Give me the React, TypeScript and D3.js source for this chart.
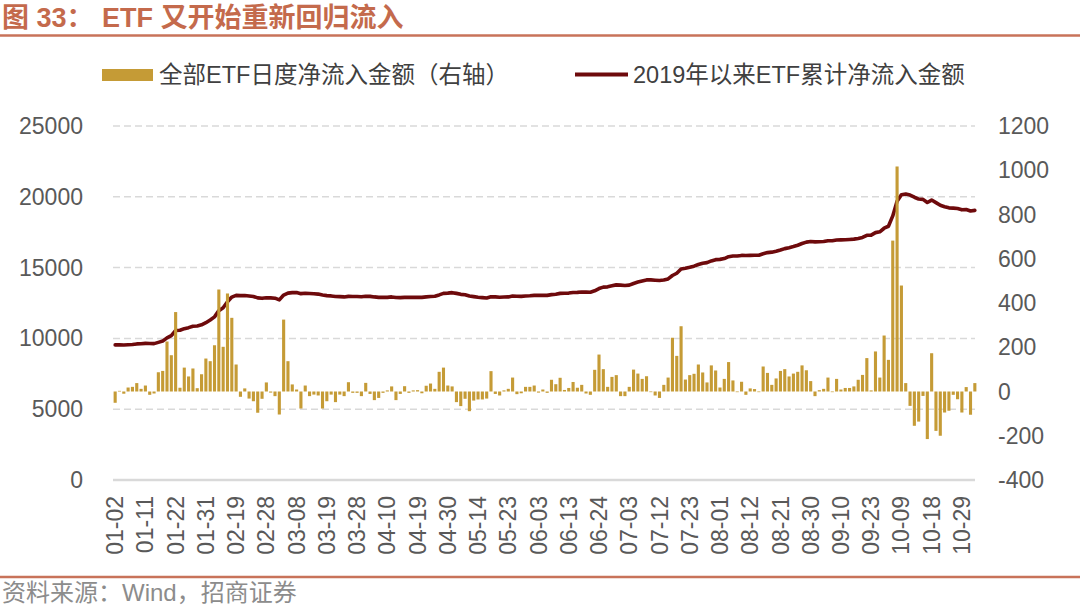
import * as React from 'react';
import * as d3 from 'd3';

// trading days, 2024-01-02 .. 2024-11-01
const dates: string[] = [
  '01-02','01-03','01-04','01-05','01-08','01-09','01-10','01-11','01-12','01-15','01-16','01-17','01-18','01-19','01-22','01-23','01-24','01-25','01-26','01-29','01-30','01-31',
  '02-01','02-02','02-05','02-06','02-07','02-08','02-19','02-20','02-21','02-22','02-23','02-26','02-27','02-28','02-29',
  '03-01','03-04','03-05','03-06','03-07','03-08','03-11','03-12','03-13','03-14','03-15','03-18','03-19','03-20','03-21','03-22','03-25','03-26','03-27','03-28','03-29',
  '04-01','04-02','04-03','04-08','04-09','04-10','04-11','04-12','04-15','04-16','04-17','04-18','04-19','04-22','04-23','04-24','04-25','04-26','04-29','04-30',
  '05-06','05-07','05-08','05-09','05-10','05-13','05-14','05-15','05-16','05-17','05-20','05-21','05-22','05-23','05-24','05-27','05-28','05-29','05-30','05-31',
  '06-03','06-04','06-05','06-06','06-07','06-11','06-12','06-13','06-14','06-17','06-18','06-19','06-20','06-21','06-24','06-25','06-26','06-27','06-28',
  '07-01','07-02','07-03','07-04','07-05','07-08','07-09','07-10','07-11','07-12','07-15','07-16','07-17','07-18','07-19','07-22','07-23','07-24','07-25','07-26','07-29','07-30','07-31',
  '08-01','08-02','08-05','08-06','08-07','08-08','08-09','08-12','08-13','08-14','08-15','08-16','08-19','08-20','08-21','08-22','08-23','08-26','08-27','08-28','08-29','08-30',
  '09-02','09-03','09-04','09-05','09-06','09-09','09-10','09-11','09-12','09-13','09-18','09-19','09-20','09-23','09-24','09-25','09-26','09-27','09-30',
  '10-08','10-09','10-10','10-11','10-14','10-15','10-16','10-17','10-18','10-21','10-22','10-23','10-24','10-25','10-28','10-29','10-30','10-31',
  '11-01',
];

const tickLabels = [
  '01-02','01-11','01-22','01-31','02-19','02-28','03-08','03-19','03-28','04-10',
  '04-19','04-30','05-14','05-23','06-03','06-13','06-24','07-03','07-12','07-23',
  '08-01','08-12','08-21','08-30','09-10','09-23','10-09','10-18','10-29',
];

// 全部ETF日度净流入金额 (亿元, right axis)
const dailyFlow = [
  -51, 3, -10, 18, 21, 38, 12, 27, -15, -9,
  87, 93, 226, 164, 359, 17, 108, 68, 104, 15,
  78, 149, 137, 209, 461, 202, 443, 333, 122, -24,
  14, -32, -44, -96, -33, 41, -5, -21, -104, 325,
  137, 32, 9, -77, 27, -21, -14, -18, -77, -44,
  -14, -48, -14, -21, 42, -6, -6, -21, 39, -11,
  -39, -29, -6, 5, 23, -39, -11, 24, -6, 5,
  6, -8, 26, 36, 12, 89, 108, 27, 23, -48,
  -66, -33, -89, -41, -36, -36, -32, 92, -11, -18,
  5, 12, 63, -12, -8, 21, 21, 27, -5, 9,
  -6, 53, 33, 62, 7, 16, 43, 17, 30, -9,
  -15, 98, 167, 101, 21, 66, 74, -21, -21, 21,
  99, 81, 57, 69, -3, -18, -29, 30, 63, 243,
  161, 295, 54, 74, 80, 122, 86, 41, 118, 95,
  18, 57, 133, 50, -3, 44, -15, 14, 11, -3,
  113, 84, 30, 59, 93, 101, 68, 81, 89, 118,
  96, 47, -21, 6, 12, 63, -3, 57, 9, 16,
  16, 23, 53, 75, 151, 5, 181, 63, 253, 143,
  682, 1017, 479, 38, -65, -155, -136, -20, -215, 173,
  -178, -200, -95, -87, -15, -35, -95, 20, -105, 38,
];

// 2019年以来ETF累计净流入金额 (亿元, left axis)
const cumFlow = [
  9540, 9540, 9530, 9550, 9570, 9610, 9620, 9650, 9640, 9630,
  9720, 9810, 10040, 10200, 10560, 10580, 10690, 10760, 10860, 10880,
  10960, 11110, 11300, 11520, 11960, 12160, 12590, 12920, 13040, 13020,
  13030, 13000, 12960, 12860, 12830, 12870, 12860, 12840, 12720, 13060,
  13200, 13230, 13240, 13160, 13190, 13170, 13150, 13130, 13060, 13020,
  13000, 12960, 12950, 12930, 12970, 12960, 12960, 12940, 12980, 12970,
  12930, 12900, 12900, 12900, 12930, 12890, 12880, 12900, 12900, 12900,
  12910, 12900, 12930, 12960, 12980, 13070, 13180, 13200, 13230, 13180,
  13110, 13080, 12990, 12950, 12910, 12880, 12850, 12940, 12930, 12910,
  12920, 12930, 12990, 12980, 12970, 12990, 13010, 13040, 13040, 13050,
  13040, 13090, 13120, 13180, 13190, 13200, 13240, 13250, 13280, 13270,
  13260, 13360, 13520, 13620, 13640, 13710, 13780, 13760, 13740, 13760,
  13880, 13980, 14060, 14130, 14130, 14110, 14090, 14120, 14200, 14440,
  14600, 14900, 14950, 15020, 15100, 15220, 15310, 15350, 15470, 15560,
  15580, 15640, 15770, 15820, 15820, 15860, 15850, 15860, 15870, 15870,
  15980, 16060, 16090, 16150, 16240, 16340, 16410, 16490, 16580, 16700,
  16800, 16840, 16820, 16830, 16840, 16900, 16900, 16950, 16960, 16970,
  16990, 17010, 17060, 17130, 17280, 17290, 17470, 17530, 17780, 17920,
  18650, 19680, 20150, 20190, 20120, 19970, 19840, 19820, 19600, 19770,
  19590, 19400, 19300, 19220, 19200, 19170, 19080, 19100, 19000, 19040,
];

const leftTicks = [0, 5000, 10000, 15000, 20000, 25000];
const rightTicks = [-400, -200, 0, 200, 400, 600, 800, 1000, 1200];

const W = 1080;
const H = 609;
const margin = { left: 113, right: 977, top: 126, bottom: 480 };
const gold = '#C59B36';
const maroon = '#6E0A0C';
const accent = '#C46A4C';
const font = '"Liberation Sans", Arial, "Noto Sans CJK SC", sans-serif';

export default function App() {
  const x = d3.scaleBand<number>()
    .domain(d3.range(dates.length))
    .range([margin.left, margin.right])
    .paddingInner(0.28)
    .paddingOuter(0.14);
  const cx = (i: number) => x(i)! + x.bandwidth() / 2;
  const yL = d3.scaleLinear().domain([0, 25000]).range([margin.bottom, margin.top]);
  const yR = d3.scaleLinear().domain([-400, 1200]).range([margin.bottom, margin.top]);

  const line = d3.line<number>()
    .x((_, i) => cx(i))
    .y(d => yL(d));

  return (
    <svg width={W} height={H} style={{ position: 'absolute', left: 0, top: 0, display: 'block' }}
      fontFamily={font}>
      <rect width={W} height={H} fill="#fff" />

      {/* title */}
      <text x={2} y={27} fontSize={27} fontWeight="bold" fill={accent}>图 33：</text>
      <text x={102} y={27} fontSize={27} fontWeight="bold" fill={accent}>ETF 又开始重新回归流入</text>
      <line x1={0} x2={W} y1={35.5} y2={35.5} stroke="#C8735A" strokeWidth={2.5} />

      {/* legend */}
      <rect x={102} y={69} width={51} height={12} fill={gold} />
      <text x={159} y={75} fontSize={23.5} fill="#404040" dominantBaseline="central">全部ETF日度净流入金额（右轴）</text>
      <line x1={575} x2={628} y1={74.5} y2={74.5} stroke={maroon} strokeWidth={4} />
      <text x={633} y={75} fontSize={23.5} fill="#404040" dominantBaseline="central">2019年以来ETF累计净流入金额</text>

      {/* grid */}
      {leftTicks.filter(t => t > 0).map(t => (
        <line key={t} x1={margin.left} x2={margin.right - 2} y1={yL(t)} y2={yL(t)}
          stroke="#D9D9D9" strokeWidth={1.5} strokeDasharray="7,4" />
      ))}
      <line x1={margin.left} x2={margin.right - 2} y1={yL(0)} y2={yL(0)} stroke="#D9D9D9" strokeWidth={2.5} />

      {/* left axis */}
      {leftTicks.map(t => (
        <text key={t} x={83} y={yL(t)} dy="0.35em" textAnchor="end" fontSize={23} fill="#595959">{t}</text>
      ))}
      {/* right axis */}
      {rightTicks.map(t => (
        <text key={t} x={998} y={yR(t)} dy="0.35em" textAnchor="start" fontSize={23} fill="#595959">{t}</text>
      ))}

      {/* x labels */}
      {tickLabels.map(lbl => {
        const i = dates.indexOf(lbl);
        return (
          <text key={lbl} transform={`translate(${cx(i)},496) rotate(-90)`} textAnchor="end"
            dy="0.35em" fontSize={23} fill="#595959">{lbl}</text>
        );
      })}

      {/* cumulative line */}
      <path d={line(cumFlow)!} fill="none" stroke={maroon} strokeWidth={3.6}
        strokeLinejoin="round" strokeLinecap="round" />

      {/* daily bars */}
      {dailyFlow.map((v, i) => (
        <rect key={i} x={x(i)} width={x.bandwidth()}
          y={v >= 0 ? yR(v) : yR(0)}
          height={Math.abs(yR(v) - yR(0))}
          fill={gold} />
      ))}

      {/* footer */}
      <line x1={0} x2={W} y1={577} y2={577} stroke="#C8735A" strokeWidth={2.5} />
      <text x={2} y={601} fontSize={24} fill="#8C8C8C">资料来源：Wind，招商证券</text>
    </svg>
  );
}
